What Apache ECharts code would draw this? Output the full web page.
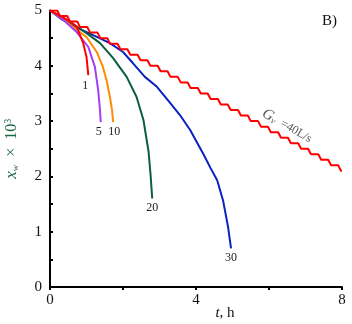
<!DOCTYPE html>
<html>
<head>
<meta charset="utf-8">
<script src="https://cdn.jsdelivr.net/npm/echarts@6/dist/echarts.min.js"></script>
<style>
  html, body { margin: 0; padding: 0; background: #fff; }
  #chart { width: 352px; height: 324px; }
</style>
</head>
<body>
<div id="chart"></div>
<script>
// [t, h ; x_w x 10^3]
const curve1 = [[0, 5], [0.3, 4.9], [0.55, 4.8], [0.73, 4.71], [0.91, 4.41], [1.0, 4.16], [1.05, 3.83]]
const curve5 = [[0, 5], [0.3, 4.87], [0.73, 4.61], [1.05, 4.34], [1.23, 3.98], [1.32, 3.56], [1.37, 3.2], [1.39, 2.98]]
const curve10 = [[0, 5], [0.3, 4.87], [0.6, 4.72], [1.0, 4.52], [1.28, 4.25], [1.45, 3.98], [1.55, 3.74], [1.64, 3.44], [1.7, 3.2], [1.73, 2.98]]
const curve20 = [[0, 5], [0.3, 4.88], [0.6, 4.77], [1.0, 4.59], [1.37, 4.41], [1.73, 4.14], [2.1, 3.8], [2.37, 3.44], [2.56, 3.02], [2.7, 2.45], [2.76, 1.99], [2.8, 1.6]]
const curve30 = [[0, 5], [0.3, 4.85], [0.6, 4.74], [0.9, 4.64], [1.3, 4.52], [1.64, 4.41], [2.0, 4.25], [2.27, 4.05], [2.6, 3.8], [2.93, 3.62], [3.29, 3.33], [3.56, 3.11], [3.84, 2.84], [4.19, 2.42], [4.4, 2.15], [4.58, 1.93], [4.74, 1.57], [4.88, 1.08], [4.96, 0.7]]
// G_v = 40 L/s: plateaus of the staircase [t start, t end, x]
const steps40 = [
  [0, 0.2, 5.0], [0.27, 0.47, 4.9], [0.55, 0.75, 4.8], [0.82, 1.02, 4.7], [1.1, 1.3, 4.6],
  [1.38, 1.57, 4.5], [1.64, 1.85, 4.4], [1.93, 2.12, 4.3], [2.2, 2.4, 4.2], [2.48, 2.67, 4.1],
  [2.75, 2.95, 4.0], [3.03, 3.22, 3.9], [3.3, 3.5, 3.8], [3.58, 3.77, 3.7], [3.85, 4.05, 3.6],
  [4.13, 4.32, 3.5], [4.4, 4.6, 3.4], [4.68, 4.87, 3.3], [4.95, 5.15, 3.2], [5.23, 5.42, 3.1],
  [5.5, 5.7, 3.0], [5.78, 5.97, 2.9], [6.05, 6.25, 2.8], [6.33, 6.52, 2.7], [6.6, 6.8, 2.6],
  [6.88, 7.07, 2.5], [7.15, 7.35, 2.4], [7.43, 7.62, 2.3], [7.7, 7.9, 2.2], [7.97, 8.0, 2.1]
]
const curve40 = steps40.flatMap(s => [[s[0], s[2]], [s[1], s[2]]])
const xTicks = [0, 4, 8]
const yTicks = [0, 1, 2, 3, 4, 5]

const serif = '"Liberation Serif", "DejaVu Serif", serif'
const chart = echarts.init(document.getElementById('chart'), null, { renderer: 'canvas' })

function endMark(data, text, offset) {
  return {
    silent: true,
    animation: false,
    data: [{
      coord: data[data.length - 1],
      symbol: 'circle',
      symbolSize: 1,
      itemStyle: { color: 'rgba(0,0,0,0)' },
      label: {
        show: true,
        formatter: text,
        position: 'bottom',
        distance: 3,
        offset: offset || [0, 0],
        color: '#222',
        fontFamily: serif,
        fontSize: 12,
      },
    }],
  }
}

function line(name, data, color, extra) {
  return Object.assign({
    name,
    type: 'line',
    data,
    showSymbol: false,
    symbol: 'none',
    lineStyle: { color, width: 2 },
    itemStyle: { color },
    animation: false,
  }, extra || {})
}

chart.setOption({
  animation: false,
  grid: { left: 50, right: 10, top: 10.5, bottom: 37, outerBoundsMode: 'none' },
  xAxis: {
    type: 'value',
    min: 0,
    max: 8,
    interval: 4,
    axisLine: { lineStyle: { color: '#000', width: 2 } },
    axisTick: { show: true, inside: false, length: 3, lineStyle: { color: '#000', width: 2 } },
    minorTick: { show: true, splitNumber: 2, length: 3, lineStyle: { color: '#000', width: 2 } },
    splitLine: { show: false },
    axisLabel: {
      color: '#111', fontFamily: serif, fontSize: 15, margin: 6,
      formatter: v => xTicks.includes(v) ? String(v) : '',
    },
  },
  yAxis: {
    type: 'value',
    min: 0,
    max: 5,
    interval: 1,
    name: '{i|x}{s|w}  ×  10{p|3}',
    nameLocation: 'middle',
    nameRotate: 90,
    nameGap: 30,
    nameTextStyle: {
      color: '#1d6b48',
      fontFamily: serif,
      fontSize: 16,
      rich: {
        i: { fontStyle: 'italic', fontSize: 17, color: '#1d6b48', fontFamily: serif },
        s: { fontSize: 9, verticalAlign: 'bottom', color: '#1d6b48', fontFamily: serif, padding: [7, 0, 0, 0] },
        p: { fontSize: 10, verticalAlign: 'top', color: '#1d6b48', fontFamily: serif, padding: [0, 0, 7, 0] },
      },
    },
    axisLine: { show: true, lineStyle: { color: '#000', width: 2 } },
    axisTick: { show: true, inside: true, length: 3, lineStyle: { color: '#000', width: 2 } },
    minorTick: { show: true, splitNumber: 2, length: 3, lineStyle: { color: '#000', width: 2 } },
    splitLine: { show: false },
    axisLabel: {
      color: '#111', fontFamily: serif, fontSize: 15, margin: 8,
      formatter: v => yTicks.includes(v) ? String(v) : '',
    },
  },
  series: [
    line('30', curve30, '#0a22c2', { markPoint: endMark(curve30, '30') }),
    line('20', curve20, '#0b5e3e', { markPoint: endMark(curve20, '20') }),
    line('10', curve10, '#ff8c00', { markPoint: endMark(curve10, '10', [1, 0]) }),
    line('5', curve5, '#a23ff5', { markPoint: endMark(curve5, '5', [-2, 0]) }),
    line('1', curve1, '#ff0000', { markPoint: endMark(curve1, '1', [-3, 1]) }),
    line('40', curve40, '#ff0000'),
  ],
  graphic: [
    {
      type: 'text',
      left: 322,
      top: 14,
      style: { text: 'B)', font: '15px ' + serif, fill: '#111' },
    },
    {
      type: 'text',
      x: 225,
      y: 313,
      style: {
        text: '{i|t}, h',
        align: 'center',
        verticalAlign: 'middle',
        rich: {
          i: { fontStyle: 'italic', fontSize: 15, fontFamily: serif, fill: '#111' },
        },
        font: '15px ' + serif,
        fill: '#111',
      },
    },
    {
      type: 'text',
      x: 287,
      y: 126,
      rotation: -Math.PI / 6,
      style: {
        text: '{i|G}{s|v}  =40L/s',
        align: 'center',
        verticalAlign: 'middle',
        font: '12px ' + serif,
        fill: '#555',
        rich: {
          i: { fontStyle: 'italic', fontSize: 15, fontFamily: serif, fill: '#555' },
          s: { fontStyle: 'italic', fontSize: 9, fontFamily: serif, fill: '#555', padding: [6, 0, 0, 0] },
        },
      },
    },
  ],
})
</script>
</body>
</html>
